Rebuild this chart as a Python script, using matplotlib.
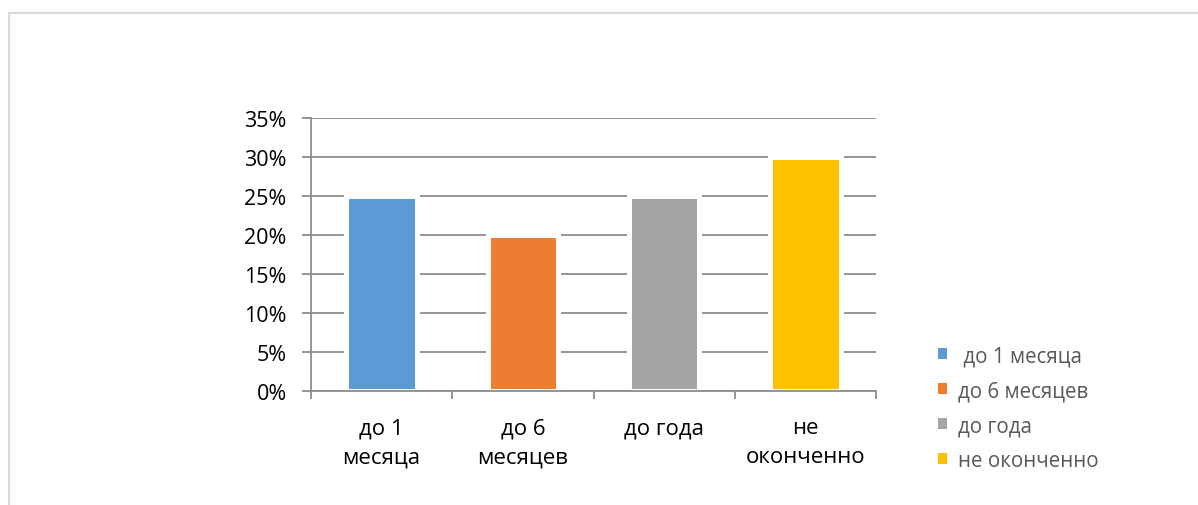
import matplotlib
matplotlib.use("Agg")
import matplotlib.pyplot as plt
from matplotlib.patches import Patch
from matplotlib.lines import Line2D
from matplotlib.ticker import FuncFormatter, FixedLocator

plt.rcParams['font.family'] = ['Open Sans', 'Noto Sans', 'DejaVu Sans']

categories = ["до 1\nмесяца", "до 6\nмесяцев", "до года", "не\nоконченно"]
legend_labels = [" до 1 месяца", "до 6 месяцев", "до года", "не оконченно"]
values = [0.25, 0.20, 0.25, 0.30]
colors = ["#5B9BD5", "#ED7D31", "#A5A5A5", "#FFC000"]
yticks = [0, 0.05, 0.10, 0.15, 0.20, 0.25, 0.30, 0.35]

W, H = 1198, 506
fig = plt.figure(figsize=(W / 100, H / 100), dpi=100)
ax = fig.add_axes([311 / W, 1 - 392 / H, (876 - 311) / W, (392 - 119) / H])

grid_c = "#8C8C8C"
x = list(range(len(categories)))
ax.bar(x, values, width=0.5, color=colors, edgecolor="white", linewidth=3.6, zorder=3)

ax.set_xlim(-0.5, len(categories) - 0.5)
ax.set_ylim(0, 0.35)
ax.set_yticks(yticks)
ax.yaxis.set_major_formatter(FuncFormatter(lambda v, p: f"{v*100:.0f}%"))
ax.grid(axis="y", color=grid_c, linewidth=1.3, zorder=1)
ax.set_axisbelow(True)

ax.set_xticks(x)
ax.set_xticklabels(categories, fontsize=16, linespacing=1.5, va="top")
ax.xaxis.set_minor_locator(FixedLocator([i - 0.5 for i in range(len(categories) + 1)]))
ax.tick_params(axis="x", which="major", length=0, pad=19, colors="black")
ax.tick_params(axis="x", which="minor", length=6, width=1.3, color=grid_c)
ax.tick_params(axis="y", length=6.5, width=1.3, color=grid_c, pad=11, labelsize=15.5, labelcolor="black")

for s in ["top", "right"]:
    ax.spines[s].set_visible(False)
for s in ["left", "bottom"]:
    ax.spines[s].set_color(grid_c)
    ax.spines[s].set_linewidth(1.3)
    ax.spines[s].set_zorder(4)

handles = [Patch(facecolor=c, edgecolor="none") for c in colors]
leg = fig.legend(handles, legend_labels, loc="upper left",
                 bbox_to_anchor=(930 / W, 1 - 338 / H), frameon=False,
                 fontsize=14.8, handlelength=0.45, handleheight=0.45,
                 handletextpad=0.5, labelspacing=0.68, borderaxespad=0)
for t in leg.get_texts():
    t.set_color("#595959")

frame_c = "#D9D9D9"
fig.add_artist(Line2D([9 / W, 1197 / W], [1 - 14 / H, 1 - 14 / H], color=frame_c, linewidth=1.5))
fig.add_artist(Line2D([9 / W, 9 / W], [1 - 14 / H, 0], color=frame_c, linewidth=1.5))

fig.savefig("out.png", dpi=100)
